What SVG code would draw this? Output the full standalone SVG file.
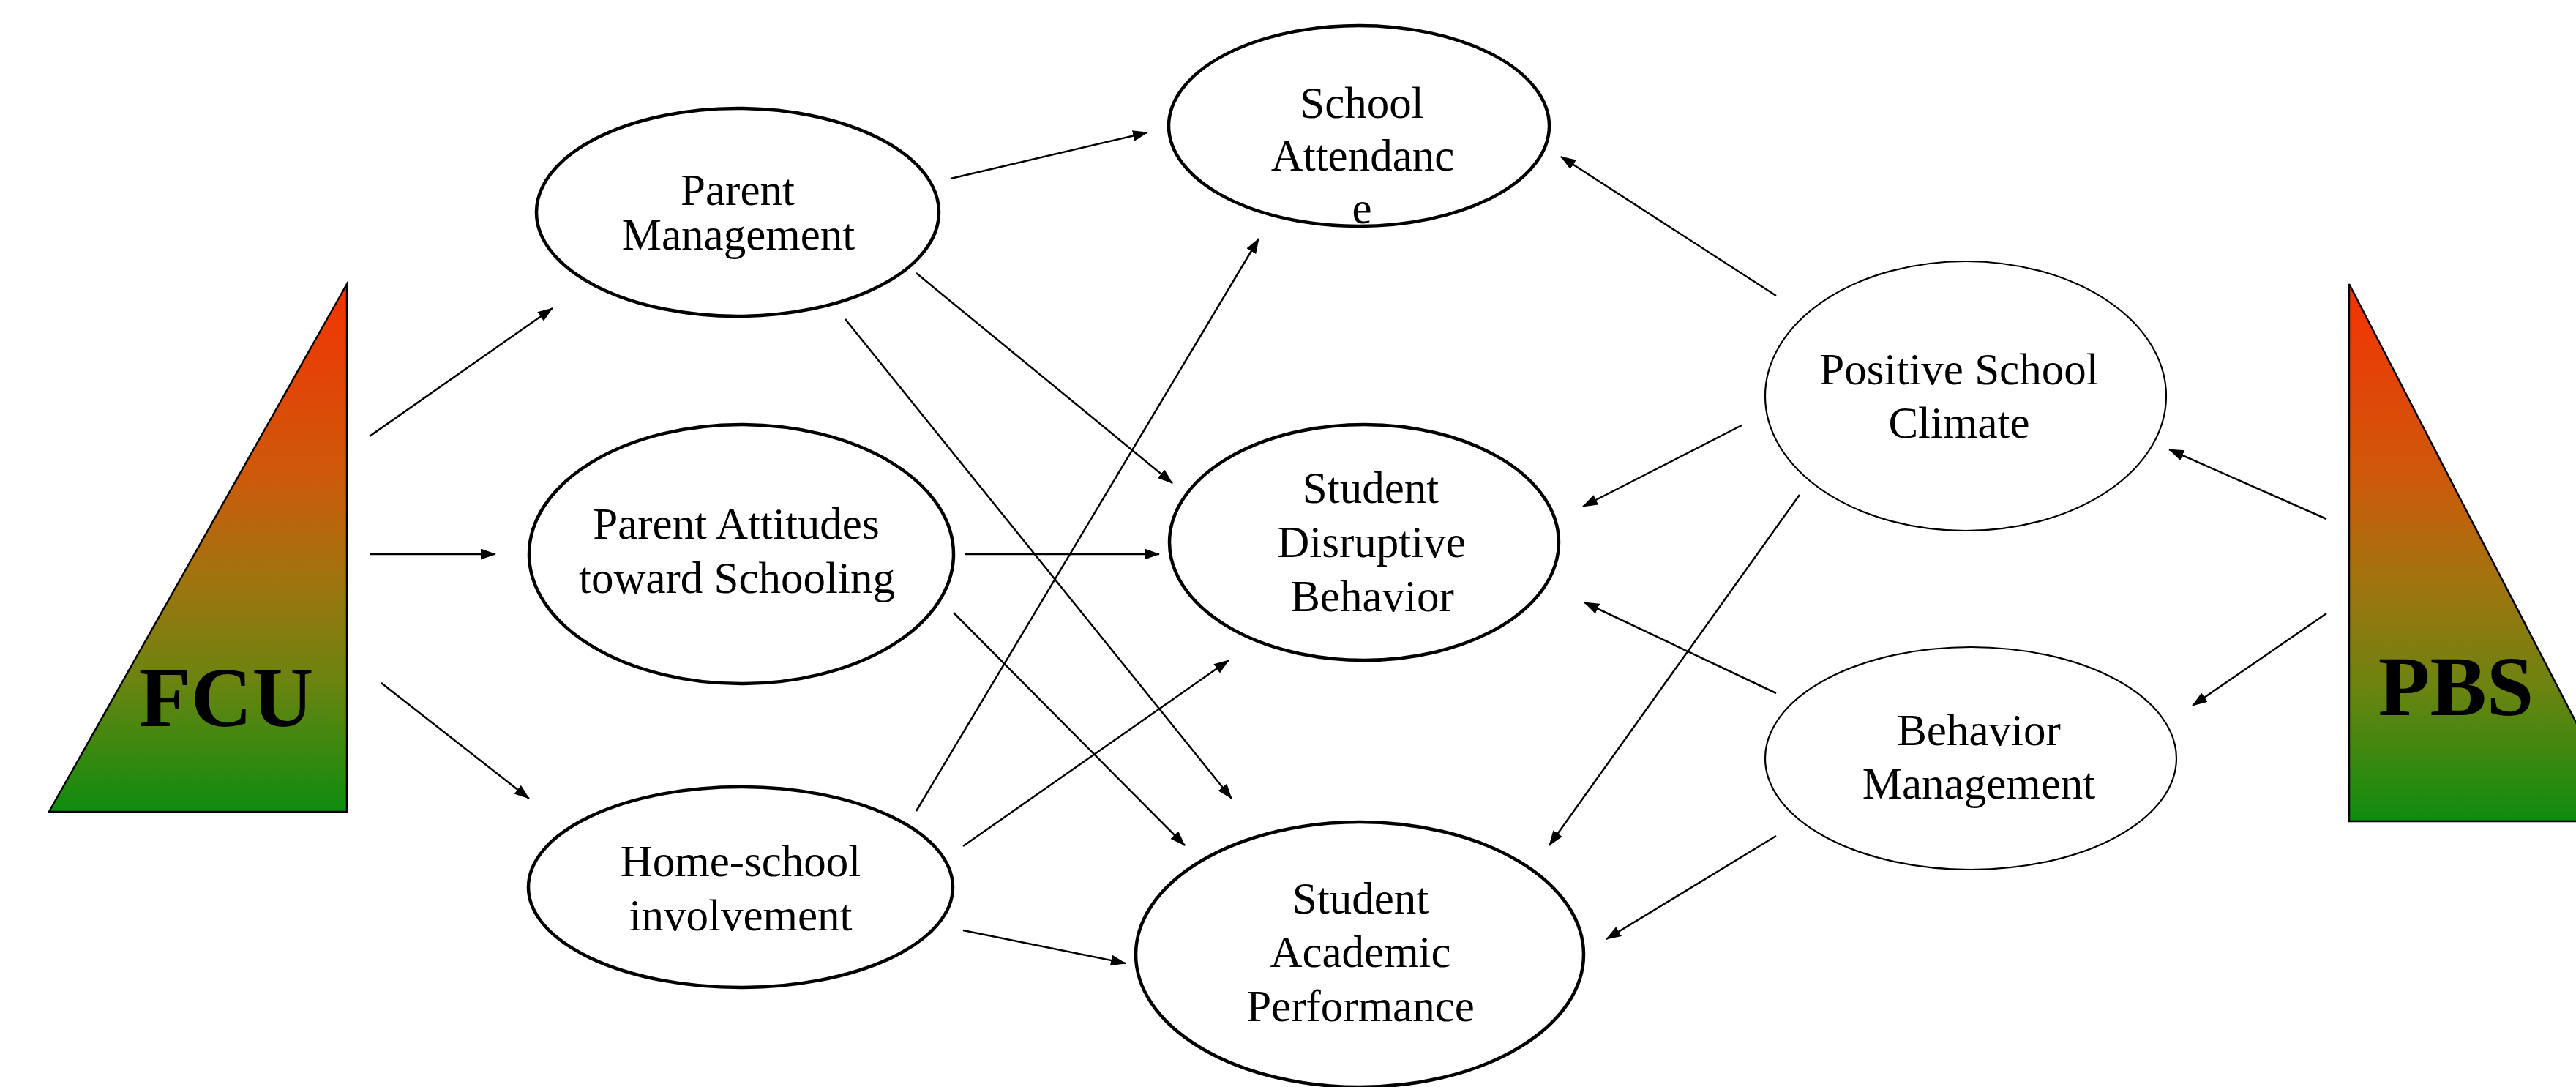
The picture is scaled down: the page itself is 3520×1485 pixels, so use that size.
<svg xmlns="http://www.w3.org/2000/svg" width="3520" height="1485" viewBox="0 0 3520 1485">
<style>
.node{fill:#fff;stroke:#000;stroke-width:4.5}
.thin{fill:#fff;stroke:#000;stroke-width:2.2}
.lbl{font-family:"Liberation Serif","Times New Roman",serif;font-size:61px;fill:#000;text-anchor:middle}
.big{font-family:"Liberation Serif","Times New Roman",serif;font-size:116px;font-weight:bold;fill:#000;text-anchor:middle}
.tri{stroke:#000;stroke-width:2.5;fill:url(#grad)}
.conn line{stroke:#000;stroke-width:2.5;marker-end:url(#arr)}
</style>
<defs>
<linearGradient id="grad" x1="0" y1="0" x2="0" y2="1">
<stop offset="0" stop-color="#F43200"/>
<stop offset="0.35" stop-color="#CF580B"/>
<stop offset="0.55" stop-color="#A2730E"/>
<stop offset="0.75" stop-color="#6C8410"/>
<stop offset="1" stop-color="#0E8C0F"/>
</linearGradient>
<marker id="arr" markerUnits="userSpaceOnUse" markerWidth="22" markerHeight="16" refX="20" refY="7.5" orient="auto" viewBox="0 0 22 16">
<path d="M0,0 L21,7.5 L0,15 z" fill="#000"/>
</marker>
</defs>
<rect width="3520" height="1485" fill="#fff"/>

<g id="fcu">
<polygon class="tri" points="474,388 474,1109 67,1109"/>
<text class="big" x="309" y="992">FCU</text>
</g>
<g id="pbs">
<polygon class="tri" points="3210,388 3590,1122 3210,1122"/>
<text class="big" x="3356" y="977">PBS</text>
</g>

<g id="parent-management">
<ellipse class="node" cx="1008" cy="290" rx="275" ry="142"/>
<text class="lbl" x="1008" y="280">Parent</text>
<text class="lbl" x="1009" y="341">Management</text>
</g>
<g id="parent-attitudes">
<ellipse class="node" cx="1013" cy="757" rx="290" ry="177"/>
<text class="lbl" x="1006" y="736">Parent Attitudes</text>
<text class="lbl" x="1007" y="810">toward Schooling</text>
</g>
<g id="home-school">
<ellipse class="node" cx="1012" cy="1212" rx="290" ry="137"/>
<text class="lbl" x="1012" y="1197">Home-school</text>
<text class="lbl" x="1012" y="1271">involvement</text>
</g>
<g id="school-attendance">
<ellipse class="node" cx="1857" cy="172" rx="260" ry="137"/>
<text class="lbl" x="1861" y="161">School</text>
<text class="lbl" x="1862" y="233">Attendanc</text>
<text class="lbl" x="1861" y="305">e</text>
</g>
<g id="student-disruptive">
<ellipse class="node" cx="1864" cy="741" rx="266" ry="161"/>
<text class="lbl" x="1873" y="687">Student</text>
<text class="lbl" x="1874" y="761">Disruptive</text>
<text class="lbl" x="1875" y="835">Behavior</text>
</g>
<g id="student-academic">
<ellipse class="node" cx="1858" cy="1304" rx="306" ry="181"/>
<text class="lbl" x="1859" y="1248">Student</text>
<text class="lbl" x="1859" y="1321">Academic</text>
<text class="lbl" x="1859" y="1395">Performance</text>
</g>
<g id="positive-school-climate">
<ellipse class="thin" cx="2686" cy="541" rx="274" ry="184"/>
<text class="lbl" x="2677" y="525">Positive School</text>
<text class="lbl" x="2677" y="598">Climate</text>
</g>
<g id="behavior-management">
<ellipse class="thin" cx="2693" cy="1036" rx="281" ry="152"/>
<text class="lbl" x="2704" y="1018">Behavior</text>
<text class="lbl" x="2704" y="1091">Management</text>
</g>

<g id="connectors" class="conn">
<line x1="505" y1="596" x2="755" y2="421"/>
<line x1="505" y1="757" x2="677" y2="757"/>
<line x1="521" y1="933" x2="723" y2="1091"/>
<line x1="1299" y1="244" x2="1568" y2="181"/>
<line x1="1252" y1="373" x2="1602" y2="660"/>
<line x1="1155" y1="436" x2="1683" y2="1091"/>
<line x1="1319" y1="757" x2="1584" y2="757"/>
<line x1="1303" y1="837" x2="1619" y2="1155"/>
<line x1="1252" y1="1108" x2="1720" y2="326"/>
<line x1="1316" y1="1156" x2="1679" y2="902"/>
<line x1="1316" y1="1271" x2="1538" y2="1316"/>
<line x1="2427" y1="404" x2="2133" y2="214"/>
<line x1="2380" y1="581" x2="2163" y2="692"/>
<line x1="2459" y1="676" x2="2117" y2="1155"/>
<line x1="2427" y1="947" x2="2165" y2="823"/>
<line x1="2427" y1="1142" x2="2195" y2="1283"/>
<line x1="3179" y1="709" x2="2964" y2="614"/>
<line x1="3179" y1="838" x2="2996" y2="964"/>
</g>
</svg>
